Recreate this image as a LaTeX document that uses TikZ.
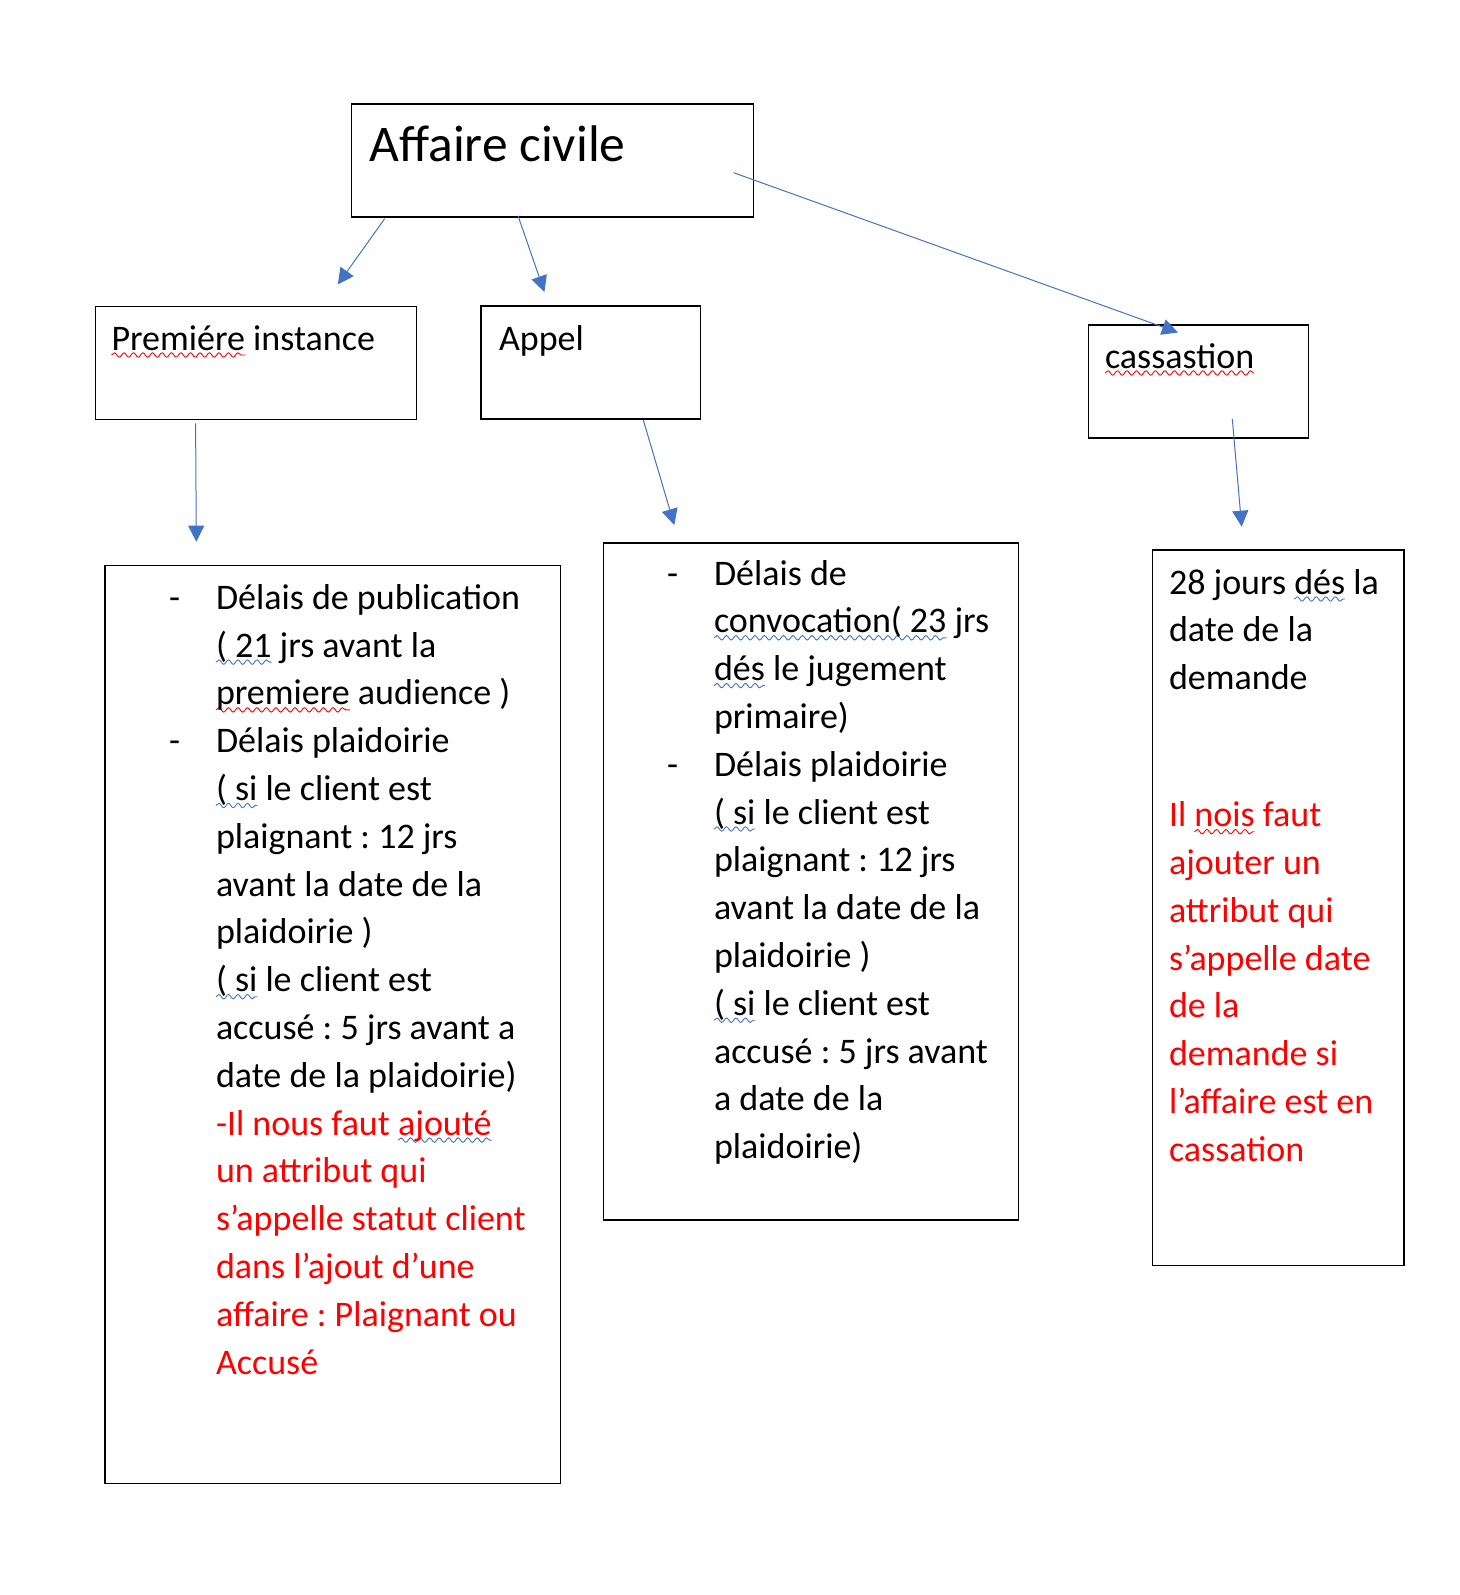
\documentclass[tikz,border=0pt]{standalone}
\usepackage{fontspec}
\setmainfont{Carlito}
\frenchspacing
\usetikzlibrary{arrows.meta,decorations.pathmorphing}
\definecolor{arrowblue}{HTML}{4472C4}
\definecolor{wordred}{HTML}{FF0000}
\newlength\wvlen
\newcommand\wv[2]{\settowidth\wvlen{#2}\leavevmode\rlap{\tikz[overlay,baseline=0pt]\draw[#1,line width=0.9pt,decorate,decoration={snake,amplitude=2.2pt,segment length=9.5pt}] (0pt,-5pt) -- (\wvlen,-5pt);}#2}
\begin{document}
\begin{tikzpicture}[x=1pt,y=-1pt,
  boxnode/.style={draw=black,line width=1.3pt,inner sep=0pt,anchor=north west},
  txt/.style={anchor=base west,inner sep=0pt,outer sep=0pt,font=\fontsize{36}{43}\selectfont},
  redtxt/.style={txt,text=wordred},
  conn/.style={draw=arrowblue,line width=1pt,-{Triangle[length=16pt,width=16pt]}}]
\useasboundingbox[fill=white] (0,0) rectangle (1459,1595);

% boxes
\node[boxnode,minimum width=401.7pt,minimum height=113pt] (aff) at (351,103.3) {};
\node[boxnode,minimum width=321pt,minimum height=113pt] (prem) at (94.5,306) {};
\node[boxnode,minimum width=219.7pt,minimum height=113pt] (app) at (480.3,305.3) {};
\node[boxnode,minimum width=220pt,minimum height=113pt] (cass) at (1087.5,324.3) {};
\node[boxnode,minimum width=455.3pt,minimum height=918pt] (bone) at (104.3,564.5) {};
\node[boxnode,minimum width=415pt,minimum height=677pt] (btwo) at (602.7,542.3) {};
\node[boxnode,minimum width=251.6pt,minimum height=715.7pt] (bthree) at (1151.7,549.3) {};

% titles
\node[txt,font=\fontsize{51.5}{60}\selectfont] (taff) at (369.5,161.7) {Affaire civile};
\node[txt] (tprem) at (111.5,350) {\wv{wordred}{Premiére} instance};
\node[txt] (tapp) at (499,350) {Appel};
\node[txt] (tcass) at (1105,368) {\wv{wordred}{cassastion}};

% box 1
\node[txt] (aone) at (169,609.3) {-};
\node[txt] (atwo) at (169,752.7) {-};
\node[txt] (l1a) at (216,609.3) {Délais de publication};
\node[txt] (l1b) at (216,657.1) {\wv{arrowblue}{( 21} jrs avant la};
\node[txt] (l1c) at (216,704.9) {\wv{wordred}{premiere} audience )};
\node[txt] (l1d) at (216,752.7) {Délais plaidoirie};
\node[txt] (l1e) at (216,800.5) {\wv{arrowblue}{( si} le client est};
\node[txt] (l1f) at (216,848.3) {plaignant : 12 jrs};
\node[txt] (l1g) at (216,896.1) {avant la date de la};
\node[txt] (l1h) at (216,943.9) {plaidoirie )};
\node[txt] (l1i) at (216,991.7) {\wv{arrowblue}{( si} le client est};
\node[txt] (l1j) at (216,1039.5) {accusé : 5 jrs avant a};
\node[txt] (l1k) at (216,1087.3) {date de la plaidoirie)};
\node[redtxt] (l1l) at (216,1135.1) {-Il nous faut \wv{arrowblue}{ajouté}};
\node[redtxt] (l1m) at (216,1182.9) {un attribut qui};
\node[redtxt] (l1n) at (216,1230.7) {s’appelle statut client};
\node[redtxt] (l1o) at (216,1278.5) {dans l’ajout d’une};
\node[redtxt] (l1p) at (216,1326.3) {affaire : Plaignant ou};
\node[redtxt] (l1q) at (216,1374.1) {Accusé};

% box 2
\node[txt] (bdashA) at (667,585) {-};
\node[txt] (bdashB) at (667,776.2) {-};
\node[txt] (l2a) at (714,585) {Délais de};
\node[txt] (l2b) at (714,632.8) {\wv{arrowblue}{convocation( 23} jrs};
\node[txt] (l2c) at (714,680.6) {\wv{arrowblue}{dés} le jugement};
\node[txt] (l2d) at (714,728.4) {primaire)};
\node[txt] (l2e) at (714,776.2) {Délais plaidoirie};
\node[txt] (l2f) at (714,824) {\wv{arrowblue}{( si} le client est};
\node[txt] (l2g) at (714,871.8) {plaignant : 12 jrs};
\node[txt] (l2h) at (714,919.6) {avant la date de la};
\node[txt] (l2i) at (714,967.4) {plaidoirie )};
\node[txt] (l2j) at (714,1015.2) {\wv{arrowblue}{( si} le client est};
\node[txt] (l2k) at (714,1063) {accusé : 5 jrs avant};
\node[txt] (l2l) at (714,1110.8) {a date de la};
\node[txt] (l2m) at (714,1158.6) {plaidoirie)};

% box 3
\node[txt] (l3a) at (1169,594) {28 jours \wv{arrowblue}{dés} la};
\node[txt] (l3b) at (1169,641.8) {date de la};
\node[txt] (l3c) at (1169,689.6) {demande};
\node[redtxt] (l3d) at (1169,826.7) {Il \wv{wordred}{nois} faut};
\node[redtxt] (l3e) at (1169,874.5) {ajouter un};
\node[redtxt] (l3f) at (1169,922.3) {attribut qui};
\node[redtxt] (l3g) at (1169,970.1) {s’appelle date};
\node[redtxt] (l3h) at (1169,1017.9) {de la};
\node[redtxt] (l3i) at (1169,1065.7) {demande si};
\node[redtxt] (l3j) at (1169,1113.5) {l’affaire est en};
\node[redtxt] (l3k) at (1169,1161.3) {cassation};

% arrow end points
\coordinate (s1) at (384.6,218.8); \coordinate (e1) at (337.8,284.5);
\coordinate (s2) at (518,215.7);   \coordinate (e2) at (544.4,292);
\coordinate (s3) at (733.6,172.7); \coordinate (e3) at (1178,332.5);
\coordinate (s4) at (195.6,423.3); \coordinate (e4) at (196.3,541.7);
\coordinate (s5) at (643.3,420);   \coordinate (e5) at (674.3,525);
\coordinate (s6) at (1232.3,419);  \coordinate (e6) at (1241.7,526.7);
\draw[conn] (s1) -- (e1);
\draw[conn] (s2) -- (e2);
\draw[conn] (s3) -- (e3);
\draw[conn] (s4) -- (e4);
\draw[conn] (s5) -- (e5);
\draw[conn] (s6) -- (e6);
\end{tikzpicture}
\end{document}
